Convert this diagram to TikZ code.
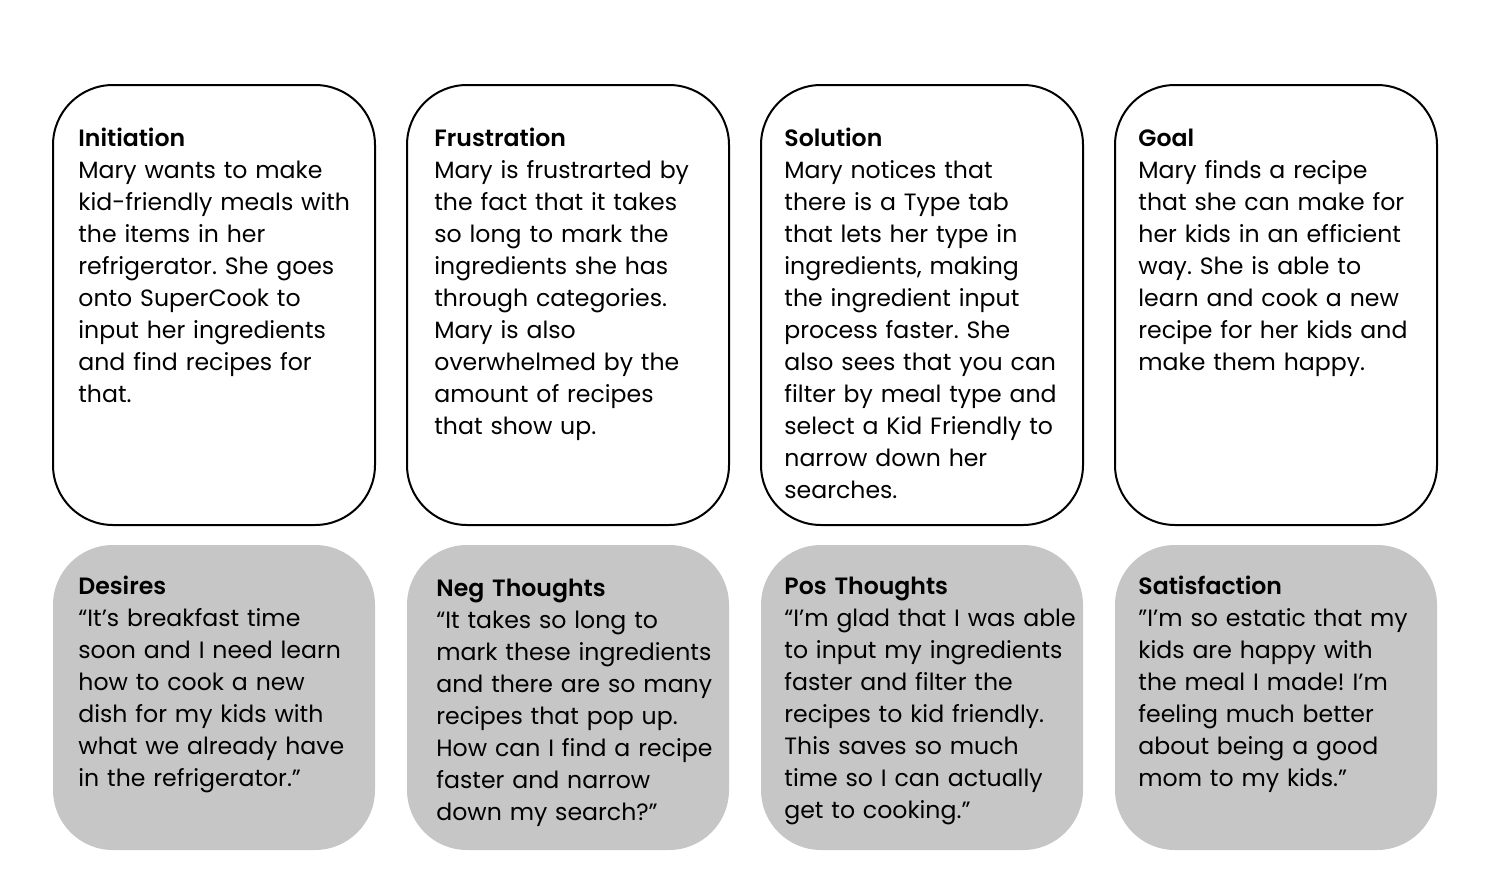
\documentclass[tikz,border=0pt]{standalone}
\usepackage{fontspec}
\setmainfont{Poppins}[BoldFont={Poppins SemiBold}]
\frenchspacing
\begin{document}
\begin{tikzpicture}[x=0.5pt,y=-0.5pt,
  card/.style={draw=black,line width=1pt,rounded corners=30pt,fill=white},
  thought/.style={fill=cardgray,rounded corners=30pt},
  txt/.style={anchor=base west,inner sep=0pt,align=left,text width=170pt,
    font=\fontsize{11.8}{16}\selectfont}]
\definecolor{cardgray}{HTML}{C6C6C6}
\useasboundingbox (0,0) rectangle (1488,878);
% event cards (top row)
\foreach \x/\n in {53/c1,407/c2,761/c3,1115/c4}{
  \draw[card] (\x,85) rectangle ++(322,440) coordinate (\n);
}
% thought cards (bottom row)
\foreach \x/\n in {53/t1,407/t2,761/t3,1115/t4}{
  \fill[thought] (\x,545) rectangle ++(322,305) coordinate (\n);
}
\node[txt] (initiation) at (78,146) {\textbf{Initiation}\\Mary wants to make\\kid-friendly meals with\\the items in her\\refrigerator. She goes\\onto SuperCook to\\input her ingredients\\and find recipes for\\that.};
\node[txt] (frustration) at (434,146) {\textbf{Frustration}\\Mary is frustrarted by\\the fact that it takes\\so long to mark the\\ingredients she has\\through categories.\\Mary is also\\overwhelmed by the\\amount of recipes\\that show up.};
\node[txt] (solution) at (784,146) {\textbf{Solution}\\Mary notices that\\there is a Type tab\\that lets her type in\\ingredients, making\\the ingredient input\\process faster. She\\also sees that you can\\filter by meal type and\\select a Kid Friendly to\\narrow down her\\searches.};
\node[txt] (goal) at (1138,146) {\textbf{Goal}\\Mary finds a recipe\\that she can make for\\her kids in an efficient\\way. She is able to\\learn and cook a new\\recipe for her kids and\\make them happy.};
\node[txt] (desires) at (78,594) {\textbf{Desires}\\“It’s breakfast time\\soon and I need learn\\how to cook a new\\dish for my kids with\\what we already have\\in the refrigerator.”};
\node[txt] (neg) at (436,596) {\textbf{Neg Thoughts}\\“It takes so long to\\mark these ingredients\\and there are so many\\recipes that pop up.\\How can I find a recipe\\faster and narrow\\down my search?”};
\node[txt] (pos) at (784,594) {\textbf{Pos Thoughts}\\“I’m glad that I was able\\to input my ingredients\\faster and filter the\\recipes to kid friendly.\\This saves so much\\time so I can actually\\get to cooking.”};
\node[txt] (satisfaction) at (1138,594) {\textbf{Satisfaction}\\”I’m so estatic that my\\kids are happy with\\the meal I made! I’m\\feeling much better\\about being a good\\mom to my kids.”};
\end{tikzpicture}
\end{document}
